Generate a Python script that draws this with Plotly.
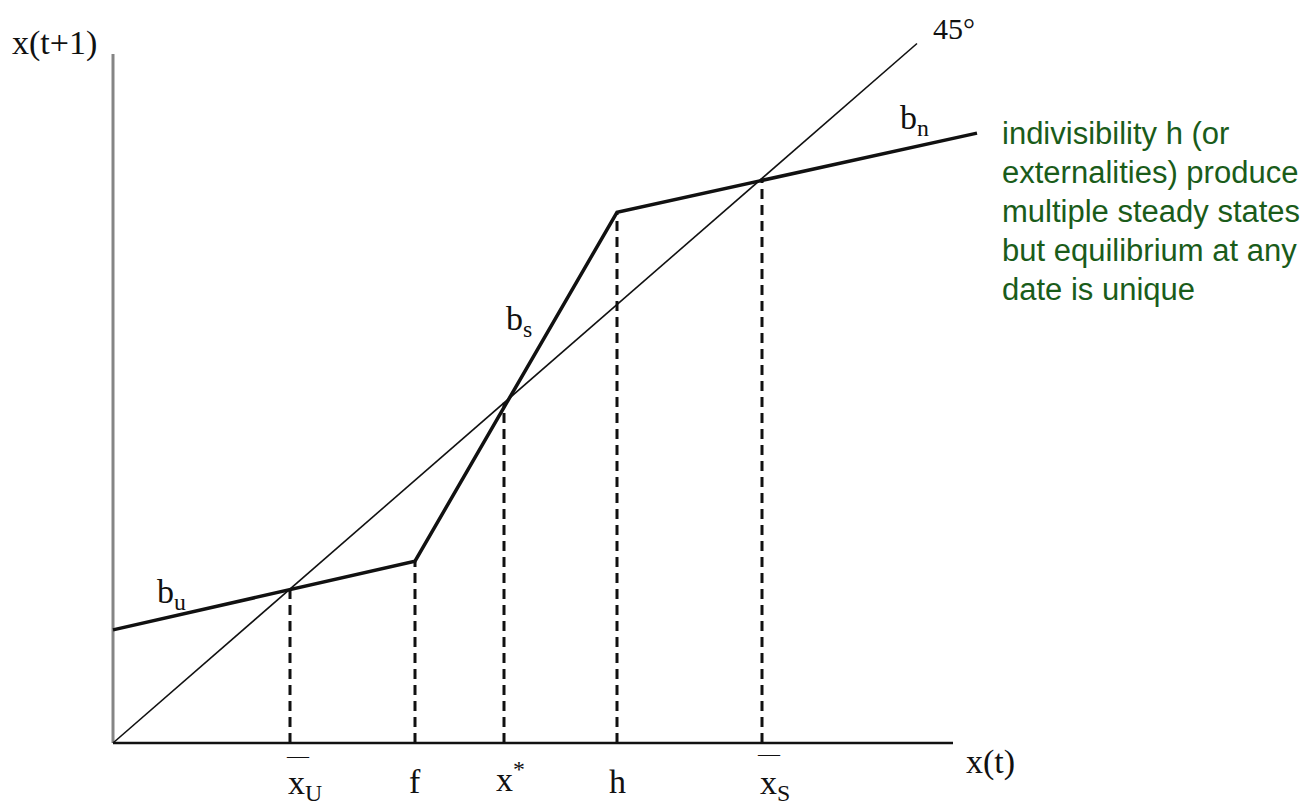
import plotly.graph_objects as go

# ---- data (45-degree-normalised units: steady states satisfy y = x) ----
kink_x = [0.0, 3.02, 5.04, 8.64]          # b_u start, f, h, b_n end
kink_y = [1.30, 2.09, 6.10, 7.01]
diag_end = 8.04                           # 45° line end
axis_x_end = 8.40
axis_y_end = 7.92

tick_names = ["x_U", "f", "x*", "h", "x_S"]
tick_x = [1.77, 3.02, 3.91, 5.04, 6.49]
tick_top = [1.77, 2.09, 3.91, 6.10, 6.49]

note_lines = [
    "indivisibility h (or",
    "externalities) produce",
    "multiple steady states",
    "but equilibrium at any",
    "date is unique",
]

# page pixel -> data helpers (for text placement only)
OX, OY, SX, SY = 113.0, 743.0, 100.0, 87.0
def X(px):
    return (px - OX) / SX
def Y(py):
    return (OY - py) / SY

W, H = 1312, 805
BODY = 8  # default page margin around the figure div
SERIF = "Liberation Serif, Times New Roman, serif"
SANS = "Liberation Sans, Arial, sans-serif"

fig = go.Figure()

# axes
fig.add_trace(go.Scatter(x=[0, 0], y=[0, axis_y_end], mode="lines",
                         line=dict(color="#858585", width=3), hoverinfo="skip"))
fig.add_trace(go.Scatter(x=[0, axis_x_end], y=[0, 0], mode="lines",
                         line=dict(color="#111111", width=2.5), hoverinfo="skip"))
# 45 degree line
fig.add_trace(go.Scatter(x=[0, diag_end], y=[0, diag_end], mode="lines",
                         line=dict(color="#111111", width=1.6), hoverinfo="skip"))
# dashed verticals
dx, dy = [], []
for xv, tv in zip(tick_x, tick_top):
    dx += [xv, xv, None]
    dy += [0, tv, None]
fig.add_trace(go.Scatter(x=dx, y=dy, mode="lines",
                         line=dict(color="#111111", width=3, dash="10px,6px"),
                         hoverinfo="skip"))
# b curve
fig.add_trace(go.Scatter(x=kink_x, y=kink_y, mode="lines",
                         line=dict(color="#111111", width=3.5), hoverinfo="skip"))

ann = []
def txt(text, px, py, size=34, anchor="center", font=SERIF, color="#111111", yanchor="middle"):
    ann.append(dict(text=text, x=X(px), y=Y(py), xref="x", yref="y",
                    xanchor=anchor, yanchor=yanchor, showarrow=False,
                    font=dict(family=font, size=size, color=color)))

# axis titles
txt("x(t+1)", 10, 43, anchor="left")
txt("x(t)", 964, 762, anchor="left")

# tick labels
labels = {"x_U": "x<sub>U</sub>", "f": "f", "x*": "x<sup>*</sup>", "h": "h", "x_S": "x<sub>S</sub>"}
for name, xv in zip(tick_names, tick_x):
    px = OX + xv * SX
    if name in ("f", "h"):
        txt(labels[name], px, 781)
    elif name == "x*":
        txt(labels[name], px - 10, 800, anchor="left", yanchor="bottom")
    else:
        txt(labels[name], px - 4, 762, anchor="left", yanchor="top")
# overbars
txt("—", 298, 755, size=22)
txt("—", 769, 753, size=22)

# curve labels
txt("b<sub>u</sub>", 155, 571, anchor="left", yanchor="top")
txt("b<sub>s</sub>", 504, 298, anchor="left", yanchor="top")
txt("b<sub>n</sub>", 898, 97, anchor="left", yanchor="top")
txt("45°", 931, 28, size=30, anchor="left")

# green note
for i, line in enumerate(note_lines):
    txt(line, 1000, 133 + i * 39, size=31, anchor="left", font=SANS, color="#1a5c1a")

fig.update_layout(
    width=W, height=H, autosize=False,
    margin=dict(l=0, r=0, t=0, b=0),
    paper_bgcolor="white", plot_bgcolor="white",
    showlegend=False,
    xaxis=dict(range=[X(BODY), X(BODY + W)], visible=False, fixedrange=True),
    yaxis=dict(range=[Y(BODY + H), Y(BODY)], visible=False, fixedrange=True),
    annotations=ann,
)

fig.write_html("out.html")
